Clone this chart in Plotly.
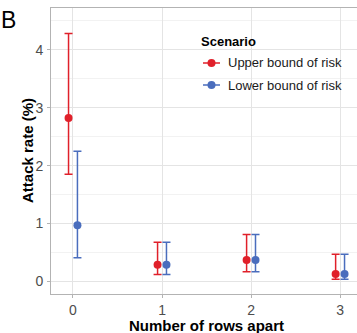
import plotly.graph_objects as go

rows_apart = [0, 1, 2, 3]
upper_est = [2.82, 0.29, 0.37, 0.13]
upper_lo = [1.85, 0.12, 0.17, 0.04]
upper_hi = [4.28, 0.68, 0.81, 0.47]
lower_est = [0.97, 0.29, 0.37, 0.13]
lower_lo = [0.41, 0.12, 0.17, 0.04]
lower_hi = [2.25, 0.68, 0.81, 0.47]
x_ticks = [0, 1, 2, 3]
y_ticks = [0, 1, 2, 3, 4]
series_names = ["Upper bound of risk", "Lower bound of risk"]

RED = "#E0202A"
BLUE = "#4A6DBD"
dodge = 0.05
FONT = "Liberation Sans, Arial, sans-serif"

W, H = 357, 333
ML, MR, MT, MB = 51, 0, 8, 39
PW, PH = W - ML - MR, H - MT - MB

def px(x):
    return (x - ML) / PW

def py(y):
    return (H - MB - y) / PH

fig = go.Figure()

def add_series(name, est, lo, hi, color, offset):
    xs = [r + offset for r in rows_apart]
    fig.add_trace(go.Scatter(
        x=xs, y=est, mode="markers", name=name, showlegend=False,
        marker=dict(color=color, size=8),
        error_y=dict(type="data", symmetric=False,
                     array=[h - e for h, e in zip(hi, est)],
                     arrayminus=[e - l for e, l in zip(est, lo)],
                     color=color, thickness=1.5, width=4),
    ))

add_series(series_names[0], upper_est, upper_lo, upper_hi, RED, -dodge)
add_series(series_names[1], lower_est, lower_lo, lower_hi, BLUE, dodge)

fig.update_layout(
    width=W, height=H,
    margin=dict(l=ML, r=MR, t=MT, b=MB),
    paper_bgcolor="white", plot_bgcolor="white",
    font=dict(family=FONT, color="#4D4D4D"),
    showlegend=False,
    xaxis=dict(
        range=[-0.247, 3.19], tickvals=x_ticks, ticktext=[str(v) for v in x_ticks],
        showgrid=True, gridcolor="#E4E4E4", gridwidth=1,
        showline=True, linecolor="#B3B3B3", linewidth=1, mirror=True,
        ticks="outside", ticklen=3, tickcolor="#B3B3B3",
        tickfont=dict(size=14, color="#4D4D4D"), zeroline=False,
        automargin=False,
    ),
    yaxis=dict(
        range=[-0.215, 4.72], tickvals=y_ticks, ticktext=[str(v) for v in y_ticks],
        showgrid=True, gridcolor="#E4E4E4", gridwidth=1,
        minor=dict(dtick=0.5, tick0=0, showgrid=True, gridcolor="#F2F2F2", gridwidth=1, ticks=""),
        showline=True, linecolor="#B3B3B3", linewidth=1, mirror=False,
        ticks="outside", ticklen=3, tickcolor="#B3B3B3",
        tickfont=dict(size=14, color="#4D4D4D"), zeroline=False,
        ticklabelstandoff=1,
        automargin=False,
    ),
)

# axis titles
fig.add_annotation(text="<b>Number of rows apart</b>", xref="paper", yref="paper",
                   x=px(206.5), y=py(325), xanchor="center", yanchor="middle",
                   showarrow=False, font=dict(size=15, color="black", family=FONT))
fig.add_annotation(text="<b>Attack rate (%)</b>", xref="paper", yref="paper",
                   x=px(27), y=py(151), xanchor="center", yanchor="middle", textangle=-90,
                   showarrow=False, font=dict(size=15, color="black", family=FONT))

# panel tag
fig.add_annotation(text="B", xref="paper", yref="paper", x=px(-1), y=py(20),
                   xanchor="left", yanchor="middle", showarrow=False,
                   font=dict(size=23, color="black", family=FONT))

# legend (drawn manually to match ggplot key size)
fig.add_annotation(text="<b>Scenario</b>", xref="paper", yref="paper", x=px(199), y=py(41),
                   xanchor="left", yanchor="middle", showarrow=False,
                   font=dict(size=13, color="black", family=FONT))
for name, color, ly in [(series_names[0], RED, 63), (series_names[1], BLUE, 85)]:
    fig.add_shape(type="line", xref="paper", yref="paper",
                  x0=px(203), x1=px(220), y0=py(ly), y1=py(ly),
                  line=dict(color=color, width=1.5))
    fig.add_shape(type="circle", xref="paper", yref="paper",
                  xsizemode="pixel", ysizemode="pixel",
                  xanchor=px(211.5), yanchor=py(ly), x0=-4, x1=4, y0=-4, y1=4,
                  fillcolor=color, line=dict(color=color, width=0))
    fig.add_annotation(text=name, xref="paper", yref="paper", x=px(226), y=py(ly),
                       xanchor="left", yanchor="middle", showarrow=False,
                       font=dict(size=13, color="#1a1a1a", family=FONT))

fig.write_html("out.html", post_script="document.body.style.margin='0';",
               config={"displayModeBar": False})
